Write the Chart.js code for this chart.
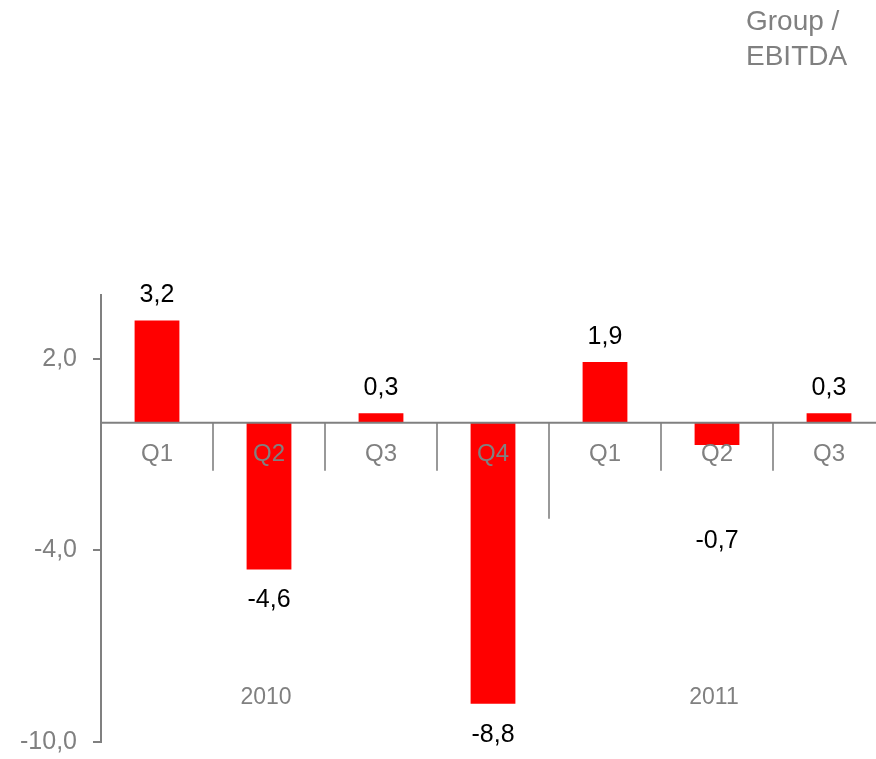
<!DOCTYPE html>
<html>
<head>
<meta charset="utf-8">
<script src="https://cdn.jsdelivr.net/npm/chart.js@4"></script>
<style>
  html, body { margin: 0; padding: 0; background: #fff; overflow: hidden; }
  #ebitda { display: block; }
</style>
</head>
<body>
<canvas id="ebitda" width="885" height="759"></canvas>
<script>
// datos del grafico
const quarters = ['Q1', 'Q2', 'Q3', 'Q4', 'Q1', 'Q2', 'Q3'];
const ebitda = [3.2, -4.6, 0.3, -8.8, 1.9, -0.7, 0.3];
const years = ['2010', '2011'];
const yearFirstQuarter = [0, 4];
const yearLabelQuarter = [1, 5];
const yTicks = [2, -4, -10];
const titleLines = ['Group /', 'EBITDA'];

const GRIS = '#808080';
const FONT = '"Liberation Sans", Arial, sans-serif';

const coma = v => v.toFixed(1).replace('.', ',');

// ejes de categoria, etiquetas y valores dibujados a mano
const extras = {
    id: 'extras',
    afterDatasetsDraw(chart) {
        const ctx = chart.ctx;
        const x = chart.scales.x;
        const y = chart.scales.y;
        const area = chart.chartArea;
        const y0 = y.getPixelForValue(0);
        const step = x.getPixelForValue(1) - x.getPixelForValue(0);

        ctx.save();
        // separadores entre trimestres
        ctx.strokeStyle = '#999';
        ctx.lineWidth = 2;
        for (let i = 0; i < quarters.length - 1; i++) {
            const sx = x.getPixelForValue(i) + step / 2;
            const largo = yearFirstQuarter.includes(i + 1) ? 96 : 48;
            ctx.beginPath();
            ctx.moveTo(sx, y0);
            ctx.lineTo(sx, y0 + largo);
            ctx.stroke();
        }
        // linea del cero
        ctx.strokeStyle = GRIS;
        ctx.beginPath();
        ctx.moveTo(area.left, y0);
        ctx.lineTo(area.right, y0);
        ctx.stroke();

        // trimestres
        ctx.fillStyle = GRIS;
        ctx.font = '24px ' + FONT;
        ctx.textAlign = 'center';
        ctx.textBaseline = 'middle';
        quarters.forEach((q, i) => ctx.fillText(q, x.getPixelForValue(i), y0 + 32));

        // años
        ctx.font = '23px ' + FONT;
        years.forEach((a, i) => ctx.fillText(a, x.getPixelForValue(yearLabelQuarter[i]) - 3, 698));

        // valores
        ctx.fillStyle = '#000';
        ctx.font = '25px ' + FONT;
        ebitda.forEach((v, i) => {
            const px = x.getPixelForValue(i);
            const py = v >= 0
                ? y.getPixelForValue(v) - 25
                : y.getPixelForValue(Math.min(v, -2.75)) + 31;
            ctx.fillText(coma(v), px, py);
        });

        // titulo
        ctx.fillStyle = GRIS;
        ctx.font = '28px ' + FONT;
        ctx.textAlign = 'left';
        titleLines.forEach((t, i) => ctx.fillText(t, 746, 22 + i * 35));
        ctx.restore();
    }
};

new Chart(document.querySelector('#ebitda'), {
    type: 'bar',
    data: {
        labels: quarters,
        datasets: [{
            data: ebitda,
            backgroundColor: '#ff0000',
            barPercentage: 0.4,
            categoryPercentage: 1
        }]
    },
    options: {
        responsive: false,
        animation: false,
        layout: { padding: { top: 295, bottom: 17, left: 0, right: 0 } },
        plugins: {
            legend: { display: false },
            tooltip: { enabled: false }
        },
        scales: {
            x: { display: false },
            y: {
                min: -10,
                max: 4,
                afterFit(scale) {
                    scale.width = 101;
                    scale.paddingTop = 0;
                    scale.paddingBottom = 0;
                },
                afterBuildTicks(scale) { scale.ticks = yTicks.map(v => ({ value: v })); },
                grid: { drawOnChartArea: false, tickLength: 8, color: GRIS, lineWidth: 2 },
                border: { color: GRIS, width: 2 },
                ticks: {
                    padding: 16,
                    color: GRIS,
                    font: { family: FONT, size: 25 },
                    callback: v => coma(v)
                }
            }
        }
    },
    plugins: [extras]
});
</script>
</body>
</html>
